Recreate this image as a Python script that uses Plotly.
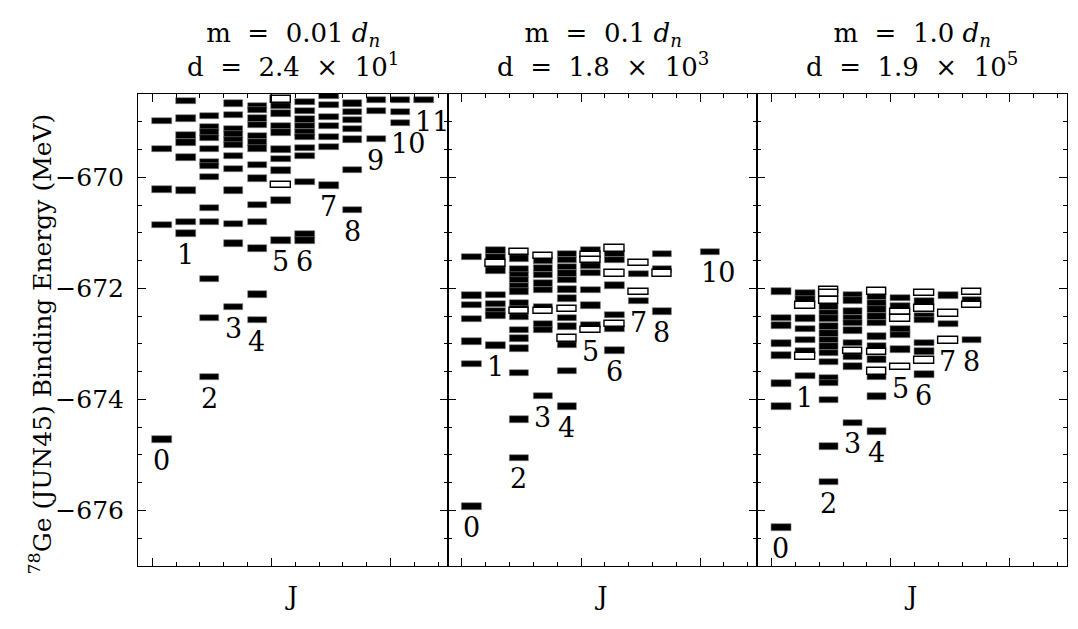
import plotly.graph_objects as go
from plotly.subplots import make_subplots

# Niveles (MeV) por J: lista indexada por J. OPEN_* = niveles dibujados huecos.
SP = "\u00a0"
PANEL_M = ["0.01", "0.1", "1.0"]
PANEL_D = [("2.4", "1"), ("1.8", "3"), ("1.9", "5")]

E_M001 = [
    [-668.99, -669.49, -670.22, -670.86, -674.72],
    [-668.63, -668.94, -669.25, -669.37, -669.64, -670.24, -670.80, -671.01],
    [-668.90, -669.10, -669.19, -669.29, -669.49, -669.73, -669.80, -670.00,
     -670.55, -670.80, -671.83, -672.53, -673.60],
    [-668.67, -668.88, -669.13, -669.23, -669.33, -669.42, -669.62, -669.85,
     -670.24, -670.84, -671.19, -672.34],
    [-668.72, -668.79, -668.94, -669.06, -669.26, -669.37, -669.48, -669.78,
     -670.02, -670.50, -670.80, -671.28, -672.11, -672.57],
    [-668.72, -668.85, -669.08, -669.19, -669.50, -669.67, -669.88, -670.42, -671.14],
    [-668.64, -668.81, -668.96, -669.08, -669.19, -669.27, -669.47, -669.62,
     -670.08, -671.03, -671.14],
    [-668.54, -668.70, -668.91, -669.08, -669.27, -669.45, -670.15],
    [-668.67, -668.82, -668.97, -669.13, -669.32, -669.87, -670.59],
    [-668.61, -668.81, -669.31],
    [-668.61, -668.82, -669.02],
    [-668.61],
]
OPEN_M001 = [[], [], [], [], [], [-668.60, -670.14], [], [], [], [], [], []]

E_M01 = [
    [-671.43, -672.13, -672.30, -672.55, -672.96, -673.36, -675.93],
    [-671.32, -671.44, -671.68, -672.12, -672.28, -672.42, -672.49, -673.03],
    [-671.46, -671.66, -671.76, -671.85, -671.96, -672.06, -672.27, -672.37,
     -672.52, -672.75, -672.90, -673.08, -673.52, -674.36, -675.05],
    [-671.50, -671.64, -671.76, -671.91, -672.03, -672.34, -672.65, -672.75, -673.94],
    [-671.38, -671.49, -671.61, -671.73, -671.85, -672.02, -672.18, -672.53,
     -672.69, -673.02, -673.49, -674.13],
    [-671.31, -671.60, -671.72, -672.03, -672.31, -672.66],
    [-671.37, -671.49, -671.95, -672.48, -672.73, -673.12],
    [-671.74, -672.23],
    [-671.38, -671.66, -672.42],
    [],
    [-671.34],
]
OPEN_M01 = [
    [], [-671.55], [-671.35, -672.41], [-671.42, -672.41], [-672.37, -672.90],
    [-671.40, -671.49, -672.75], [-671.28, -671.73, -672.64], [-671.54, -672.07],
    [-671.73], [], [],
]

E_M1 = [
    [-672.06, -672.53, -672.67, -672.99, -673.21, -673.71, -674.13, -676.31],
    [-672.09, -672.20, -672.54, -672.73, -672.93, -673.13, -673.58],
    [-672.33, -672.44, -672.54, -672.69, -672.81, -672.93, -673.05, -673.16,
     -673.33, -673.61, -673.70, -674.01, -674.85, -675.49],
    [-672.12, -672.22, -672.42, -672.54, -672.62, -672.76, -672.98, -673.24,
     -673.41, -674.42],
    [-672.15, -672.27, -672.38, -672.51, -672.62, -672.87, -673.04, -673.28,
     -673.59, -673.95, -674.58],
    [-672.17, -672.33, -672.74, -672.84, -673.10],
    [-672.24, -672.50, -672.57, -672.98, -673.14, -673.55],
    [-672.13, -672.64],
    [-672.22, -672.93],
]
OPEN_M1 = [
    [], [-672.31, -673.23], [-672.03, -672.09, -672.22], [-673.13],
    [-672.06, -673.15, -673.50], [-672.43, -672.54, -673.42],
    [-672.08, -672.36, -673.30], [-672.45, -672.94], [-672.07, -672.30],
]

Y_RANGE = [-677, -668.5]
X_RANGE = [-0.6, 12.4]

FONT = "DejaVu Serif"
BAR_LEN = 0.82
BAR_THICK = 0.115
LABEL_DROP = 0.38

fig = make_subplots(rows=1, cols=3, shared_yaxes=True, horizontal_spacing=0)

panels = [(E_M001, OPEN_M001), (E_M01, OPEN_M01), (E_M1, OPEN_M1)]
for col, (levels, opens) in enumerate(panels, start=1):
    xs, ys = [], []
    for j, lv in enumerate(levels):
        xs += [j] * len(lv)
        ys += lv
    fig.add_trace(go.Bar(
        orientation="h", y=ys, x=[BAR_LEN] * len(ys), base=xs,
        width=BAR_THICK,
        marker=dict(color="black", line=dict(color="#808080", width=0.6)),
        showlegend=False, hoverinfo="skip",
    ), row=1, col=col)

    xo, yo = [], []
    for j, lv in enumerate(opens):
        xo += [j] * len(lv)
        yo += lv
    fig.add_trace(go.Bar(
        orientation="h", y=yo, x=[BAR_LEN] * len(yo), base=xo,
        width=BAR_THICK,
        marker=dict(color="white", line=dict(color="black", width=1.4)),
        showlegend=False, hoverinfo="skip",
    ), row=1, col=col)

    # etiqueta J bajo el nivel más bajo
    xref = "x" if col == 1 else f"x{col}"
    yref = "y" if col == 1 else f"y{col}"
    for j in range(len(levels)):
        allv = levels[j] + opens[j]
        if not allv:
            continue
        fig.add_annotation(
            x=j - 0.05, y=min(allv) - LABEL_DROP, xref=xref, yref=yref,
            text=str(j), showarrow=False, xanchor="left", yanchor="middle",
            font=dict(family=FONT, size=27, color="black"),
        )

    fig.update_xaxes(
        row=1, col=col, range=X_RANGE, tick0=0, dtick=5,
        showticklabels=False, ticks="inside", ticklen=8, tickwidth=1.2,
        tickcolor="black", showline=True, linecolor="black", linewidth=1,
        mirror="allticks", showgrid=False, zeroline=False,
        minor=dict(dtick=1, ticks="inside", ticklen=4, tickwidth=1, tickcolor="black"),
        title=dict(text="J", font=dict(family=FONT, size=26, color="black"), standoff=20),
    )
    fig.update_yaxes(
        row=1, col=col, range=Y_RANGE, tick0=-670, dtick=2,
        ticks="inside", ticklen=8, tickwidth=1.2, tickcolor="black",
        showline=True, linecolor="black", linewidth=1, mirror="allticks",
        showgrid=False, zeroline=False, ticklabelstandoff=8,
        minor=dict(dtick=0.5, ticks="inside", ticklen=4, tickwidth=1, tickcolor="black"),
        tickfont=dict(family=FONT, size=25, color="black"),
    )

    mant, expo = PANEL_D[col - 1]
    title = (f"m{SP} ={SP} {PANEL_M[col - 1]} <i>d<sub>n</sub></i><br>"
             f"d{SP} ={SP} {mant}{SP} ×{SP} 10<sup>{expo}</sup>")
    fig.add_annotation(
        x=0.5, y=1.0, xref=f"{xref} domain", yref="paper", yanchor="bottom",
        yshift=10, text=title, showarrow=False,
        font=dict(family=FONT, size=26, color="black"),
    )

fig.add_annotation(
    x=-0.125, y=0.47, xref="paper", yref="paper", textangle=-90,
    text="<sup>78</sup>Ge (JUN45) Binding Energy (MeV)", showarrow=False,
    font=dict(family=FONT, size=25, color="black"),
)

# la página añade 8 px de margen al body: figura 8 px más pequeña
fig.update_layout(
    width=1070, height=621, barmode="overlay", bargap=0,
    plot_bgcolor="white", paper_bgcolor="white",
    margin=dict(l=130, r=11, t=86, b=63),
    font=dict(family=FONT, color="black"),
)

fig.write_html("out.html")
